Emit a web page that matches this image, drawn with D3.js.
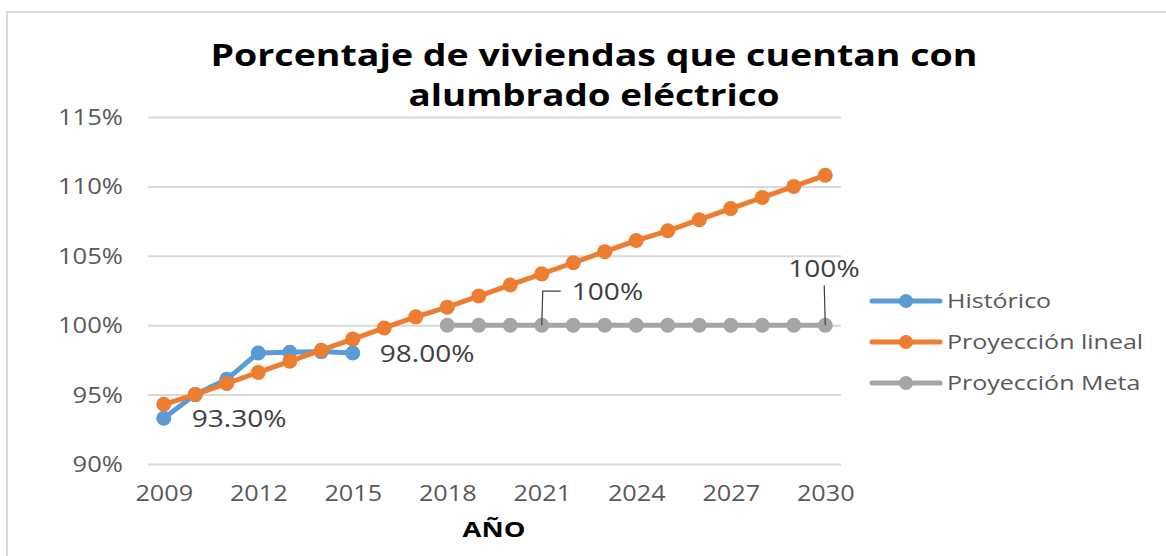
<!DOCTYPE html>
<html>
<head>
<meta charset="utf-8">
<script src="https://cdn.jsdelivr.net/npm/d3@7"></script>
<style>
  html, body { margin: 0; padding: 0; background: #fff; }
  text { font-family: 'Open Sans', sans-serif; }
</style>
</head>
<body>
<div id="chart"></div>
<script>
const years = d3.range(2009, 2031);
const xTickYears = [2009, 2012, 2015, 2018, 2021, 2024, 2027, 2030];
const yTicks = [90, 95, 100, 105, 110, 115];

const historicoYears = [2009, 2010, 2011, 2012, 2013, 2014, 2015];
const historico = [93.3, 95.0, 96.1, 98.0, 98.05, 98.1, 98.0];

const linealYears = years;
const lineal = [94.3, 95.0, 95.8, 96.6, 97.4, 98.2, 99.0, 99.8, 100.6, 101.3, 102.1,
  102.9, 103.7, 104.5, 105.3, 106.1, 106.8, 107.6, 108.4, 109.2, 110.0, 110.8];

const metaYears = d3.range(2018, 2031);
const meta = [100, 100, 100, 100, 100, 100, 100, 100, 100, 100, 100, 100, 100];

const seriesNames = ['Histórico', 'Proyección lineal', 'Proyección Meta'];
const colors = ['#5b9bd5', '#ed7d31', '#a5a5a5'];

const W = 1166, H = 556;
const plot = { left: 148, right: 841, top: 117, bottom: 464 };

const svg = d3.select('#chart').append('svg')
  .attr('width', W).attr('height', H);

// stretch text horizontally (source picture is wider than the font)
const stretch = (sel, k) => sel.each(function () {
  const len = this.getComputedTextLength();
  d3.select(this).attr('textLength', len * k).attr('lengthAdjust', 'spacingAndGlyphs');
});

// chart frame
svg.append('rect')
  .attr('x', 7).attr('y', 12).attr('width', W + 20).attr('height', H + 20)
  .attr('fill', 'none').attr('stroke', '#d9d9d9').attr('stroke-width', 2);

const xScale = d3.scalePoint().domain(years).range([plot.left, plot.right]).padding(0.5);
const yScale = d3.scaleLinear().domain([90, 115]).range([plot.bottom, plot.top]);

// Y axis + gridlines
const yAxis = svg.append('g')
  .attr('transform', `translate(${plot.left},0)`)
  .call(d3.axisLeft(yScale).tickValues(yTicks)
    .tickSize(-(plot.right - plot.left)).tickPadding(25)
    .tickFormat(d => d + '%'));
yAxis.select('.domain').remove();
yAxis.selectAll('.tick line').attr('stroke', '#d9d9d9').attr('stroke-width', 2);
yAxis.selectAll('.tick text')
  .attr('font-size', 21).attr('fill', '#595959').attr('dy', 7.5)
  .call(stretch, 1.22);

// X axis
const xAxis = svg.append('g')
  .attr('transform', `translate(0,${plot.bottom})`)
  .call(d3.axisBottom(xScale).tickValues(xTickYears).tickSize(0).tickPadding(0));
xAxis.select('.domain').remove();
xAxis.selectAll('.tick text')
  .attr('font-size', 21).attr('fill', '#595959').attr('y', 37).attr('dy', 0)
  .call(stretch, 1.2);

// axis title
svg.append('text')
  .attr('x', 494).attr('y', 537).attr('text-anchor', 'middle')
  .attr('font-size', 21).attr('font-weight', 700).attr('fill', '#000')
  .text('AÑO')
  .call(stretch, 1.3);

// title
const titleLines = ['Porcentaje de viviendas que cuentan con', 'alumbrado eléctrico'];
const titleWidths = [767, 371];
titleLines.forEach((t, i) => {
  svg.append('text')
    .attr('x', 594).attr('y', 66 + i * 40).attr('text-anchor', 'middle')
    .attr('font-size', 31).attr('font-weight', 700).attr('fill', '#000')
    .attr('textLength', titleWidths[i]).attr('lengthAdjust', 'spacingAndGlyphs')
    .text(t);
});

// series
const series = [
  { xs: historicoYears, vs: historico },
  { xs: linealYears, vs: lineal },
  { xs: metaYears, vs: meta },
];
const line = d3.line().x(d => xScale(d[0])).y(d => yScale(d[1]));

// draw order: meta, historico, then lineal on top
[2, 0, 1].forEach(i => {
  const pts = series[i].xs.map((x, j) => [x, series[i].vs[j]]);
  const g = svg.append('g');
  g.append('path').attr('d', line(pts))
    .attr('fill', 'none').attr('stroke', colors[i]).attr('stroke-width', 5)
    .attr('stroke-linejoin', 'round').attr('stroke-linecap', 'round');
  g.selectAll('circle').data(pts).enter().append('circle')
    .attr('cx', d => xScale(d[0])).attr('cy', d => yScale(d[1]))
    .attr('r', 7.5).attr('fill', colors[i]);
});

// data labels
const labelColor = '#404040';
const addLabel = (x, y, txt) => svg.append('text')
  .attr('x', x).attr('y', y).attr('font-size', 23).attr('fill', labelColor)
  .text(txt).call(stretch, 1.22);

addLabel(xScale(2009) + 28, yScale(historico[0]) + 9, '93.30%');
addLabel(xScale(2015) + 27, yScale(historico[6]) + 9, '98.00%');

// leader lines for meta labels
const p21 = [xScale(2021), yScale(meta[3])];
svg.append('path')
  .attr('d', `M${p21[0]},${p21[1]} L${p21[0] + 1},${p21[1] - 34} L${p21[0] + 19},${p21[1] - 34}`)
  .attr('fill', 'none').attr('stroke', '#404040').attr('stroke-width', 1.2);
addLabel(p21[0] + 30, p21[1] - 25, '100%');

const p30 = [xScale(2030), yScale(meta[12])];
svg.append('path')
  .attr('d', `M${p30[0]},${p30[1]} L${p30[0] - 1},${p30[1] - 40}`)
  .attr('fill', 'none').attr('stroke', '#404040').attr('stroke-width', 1.2);
addLabel(p30[0] - 37, p30[1] - 48, '100%');

// legend
const legend = svg.append('g');
seriesNames.forEach((name, i) => {
  const y = 301 + i * 41;
  legend.append('line').attr('x1', 872).attr('x2', 940).attr('y1', y).attr('y2', y)
    .attr('stroke', colors[i]).attr('stroke-width', 5).attr('stroke-linecap', 'round');
  legend.append('circle').attr('cx', 906).attr('cy', y).attr('r', 7).attr('fill', colors[i]);
  legend.append('text').attr('x', 947).attr('y', y + 7)
    .attr('font-size', 20).attr('fill', '#595959')
    .text(name).call(stretch, 1.25);
});
</script>
</body>
</html>
